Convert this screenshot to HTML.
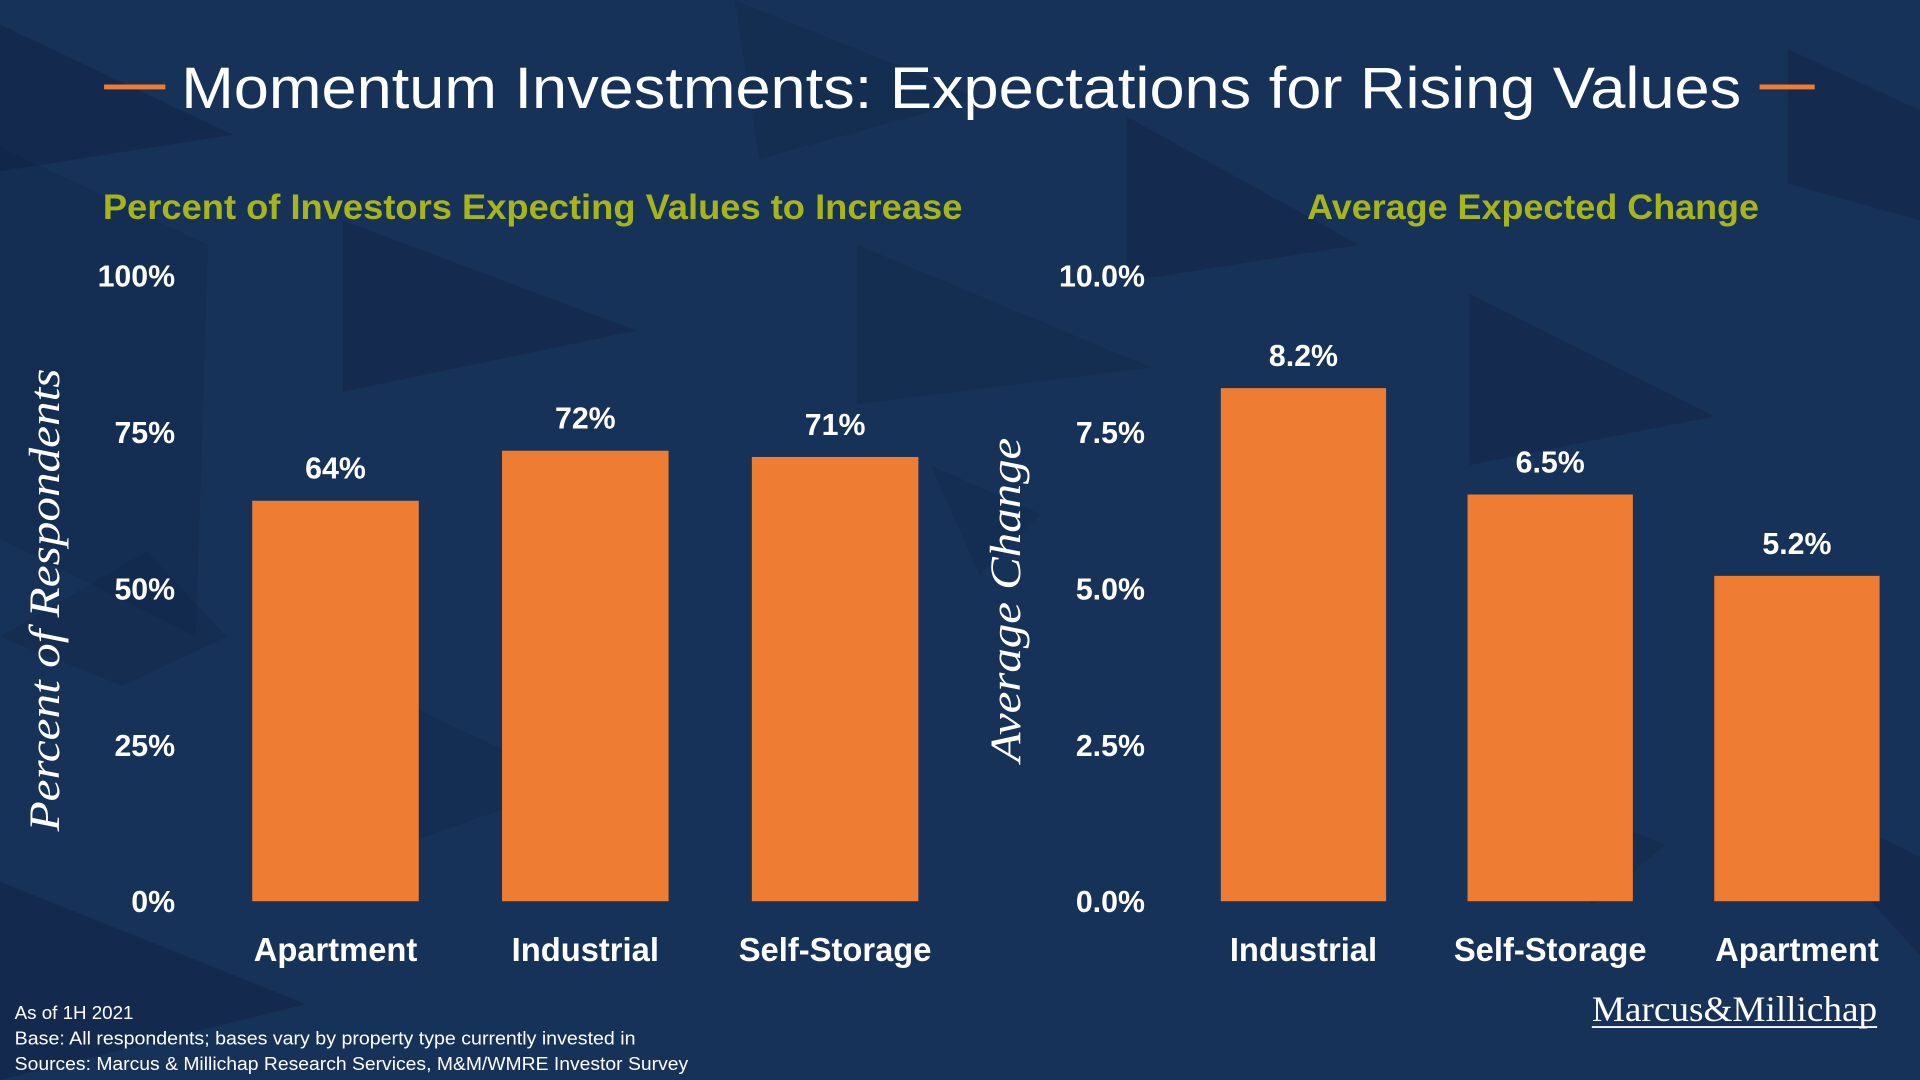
<!DOCTYPE html>
<html><head><meta charset="utf-8"><style>
html,body{margin:0;padding:0;width:1920px;height:1080px;overflow:hidden;background:#173258}
svg{display:block}
text{font-family:"Liberation Sans",sans-serif}
.b{font-weight:bold}
</style></head><body>
<svg id="s" width="1920" height="1080" viewBox="0 0 1568 882" xmlns="http://www.w3.org/2000/svg">
<rect width="1568" height="882" fill="#173258"/>
<g fill="#0c1e3c">
<polygon points="0,20 190,110 0,140" opacity="0.35"/>
<polygon points="0,120 170,200 160,520 0,440" opacity="0.18"/>
<polygon points="280,180 520,270 280,320" opacity="0.3"/>
<polygon points="120,450 185,520 100,560 0,520" opacity="0.25"/>
<polygon points="0,720 250,820 0,882" opacity="0.35"/>
<polygon points="600,0 800,80 620,130" opacity="0.22"/>
<polygon points="700,200 940,300 700,330" opacity="0.22"/>
<polygon points="920,95 1110,200 920,230" opacity="0.3"/>
<polygon points="1200,240 1400,340 1200,380" opacity="0.3"/>
<polygon points="1460,40 1568,90 1568,180 1460,150" opacity="0.3"/>
<polygon points="1430,630 1568,700 1568,780" opacity="0.3"/>
<polygon points="1260,650 1360,690 1300,740" opacity="0.22"/>
<polygon points="460,380 540,420 500,460" opacity="0.18"/>
<polygon points="300,560 470,640 300,700" opacity="0.18"/>
<polygon points="760,380 850,420 800,470" opacity="0.18"/>
</g>
<rect x="85" y="69" width="50" height="4" fill="#ee7d33"/>
<rect x="1437" y="69" width="45" height="4" fill="#ee7d33"/>
<text x="785" y="88" text-anchor="middle" font-size="48" fill="#fff" textLength="1274" lengthAdjust="spacingAndGlyphs">Momentum Investments: Expectations for Rising Values</text>
<text x="435" y="179" text-anchor="middle" font-size="29" class="b" fill="#a7b51d" textLength="702" lengthAdjust="spacingAndGlyphs">Percent of Investors Expecting Values to Increase</text>
<text x="1252" y="179" text-anchor="middle" font-size="29" class="b" fill="#a7b51d" textLength="369" lengthAdjust="spacingAndGlyphs">Average Expected Change</text>
<text transform="translate(48,490) rotate(-90)" text-anchor="middle" font-size="35" font-style="italic" fill="#fff" style="font-family:'Liberation Serif',serif" textLength="378" lengthAdjust="spacingAndGlyphs">Percent of Respondents</text>
<text transform="translate(833,490) rotate(-90)" text-anchor="middle" font-size="35" font-style="italic" fill="#fff" style="font-family:'Liberation Serif',serif" textLength="265" lengthAdjust="spacingAndGlyphs">Average Change</text>
<g id="left"></g>
<g id="right"></g>
<g fill="#fff" font-size="15">
<text x="12" y="832" textLength="97" lengthAdjust="spacingAndGlyphs">As of 1H 2021</text>
<text x="12" y="853" textLength="507" lengthAdjust="spacingAndGlyphs">Base: All respondents; bases vary by property type currently invested in</text>
<text x="12" y="874" textLength="550" lengthAdjust="spacingAndGlyphs">Sources: Marcus &amp; Millichap Research Services, M&amp;M/WMRE Investor Survey</text>
</g>
<g fill="#fff">
<text x="1300" y="834" font-size="29" style="font-family:'Liberation Serif',serif" textLength="233" lengthAdjust="spacingAndGlyphs">Marcus&amp;Millichap</text>
<rect x="1300" y="838" width="233" height="1.5"/>
</g>
</svg>
<script>
const leftCategories=["Apartment","Industrial","Self-Storage"];
const leftValues=[64,72,71];
const leftValueLabels=["64%","72%","71%"];
const leftTicks=[0,25,50,75,100];
const leftTickLabels=["0%","25%","50%","75%","100%"];
const rightCategories=["Industrial","Self-Storage","Apartment"];
const rightValues=[8.2,6.5,5.2];
const rightValueLabels=["8.2%","6.5%","5.2%"];
const rightTicks=[0,2.5,5,7.5,10];
const rightTickLabels=["0.0%","2.5%","5.0%","7.5%","10.0%"];
const NS="http://www.w3.org/2000/svg";
function mk(p,tag,a){const e=document.createElementNS(NS,tag);for(const k in a)e.setAttribute(k,a[k]);p.appendChild(e);return e;}
function draw(g,cats,vals,vlabels,ticks,tlabels,o){
  const y=v=>736-(v/o.max)*511;
  const x=i=>o.x0+i*o.pitch;
  ticks.forEach((t,i)=>{
    const e=mk(g,'text',{x:o.tickX,y:y(t)+9,'text-anchor':'end','font-size':25,'font-weight':'bold',fill:'#fff'});
    
    
    e.textContent=tlabels[i];
  });
  cats.forEach((c,i)=>{
    const r=mk(g,'rect',{x:x(i),y:y(vals[i]),width:o.w,height:736-y(vals[i]),fill:'#ee7d33'});
    
    
    const v=mk(g,'text',{x:x(i)+o.w/2,y:y(vals[i])-18,'text-anchor':'middle','font-size':25,'font-weight':'bold',fill:'#fff'});
    
    
    v.textContent=vlabels[i];
    const l=mk(g,'text',{x:x(i)+o.w/2,y:785,'text-anchor':'middle','font-size':27,'font-weight':'bold',fill:'#fff'});
    
    
    l.textContent=c;
  });
}
draw(document.getElementById('left'),leftCategories,leftValues,leftValueLabels,leftTicks,leftTickLabels,{max:100,x0:206,pitch:204,w:136,tickX:143});
draw(document.getElementById('right'),rightCategories,rightValues,rightValueLabels,rightTicks,rightTickLabels,{max:10,x0:997,pitch:201.5,w:135,tickX:935});
document.querySelectorAll('#left text,#right text').forEach(t=>{
  const L=t.getComputedTextLength();
  t.setAttribute('textLength',L*0.99);
  t.setAttribute('lengthAdjust','spacingAndGlyphs');
});
</script>
</body></html>
